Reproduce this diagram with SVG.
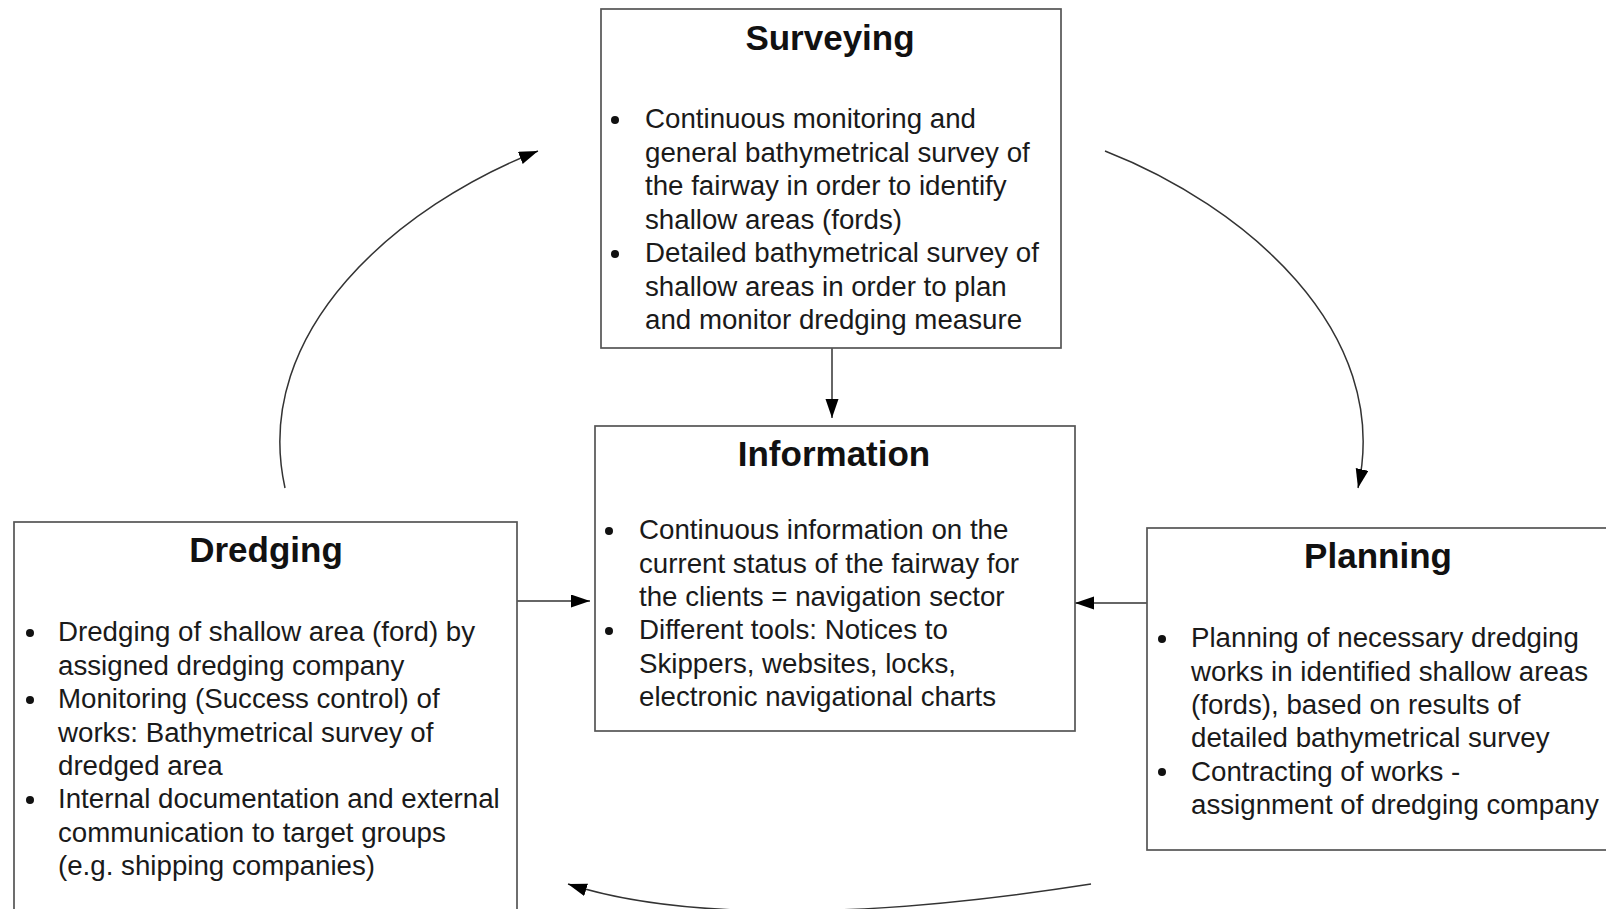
<svg xmlns="http://www.w3.org/2000/svg" width="1606" height="909" viewBox="0 0 1606 909">
  <defs>
    <marker id="arrow" markerUnits="userSpaceOnUse" markerWidth="20" markerHeight="14" refX="19" refY="6.5" orient="auto">
      <path d="M0,0 L19,6.5 L0,13 Z" fill="#000"/>
    </marker>
    <style>
      .box { fill: #fff; stroke: #555; stroke-width: 1.7; }
      .title { font-family: "Liberation Sans", Arial, sans-serif; font-weight: bold; font-size: 35px; fill: #111; text-anchor: middle; }
      .body { font-family: "Liberation Sans", Arial, sans-serif; font-size: 27.7px; fill: #1a1a1a; }
      .bullet { fill: #111; }
      .link { fill: none; stroke: #333; stroke-width: 1.5; marker-end: url(#arrow); }
    </style>
  </defs>
  <rect width="1606" height="909" fill="#fff"/>

  <!-- connectors -->
  <g id="connectors">
    <path class="link" d="M832,348 L832,418"/>
    <path class="link" d="M517,601 L590,601"/>
    <path class="link" d="M1147,603 L1075,603"/>
    <path class="link" d="M285,488 C250,330 400,205 538,151"/>
    <path class="link" d="M1105,151 C1243,205 1393,330 1358,488"/>
    <path class="link" d="M1091,884 C860,920 680,920 568,884"/>
  </g>

  <!-- Surveying -->
  <g id="surveying">
    <rect class="box" x="601" y="9" width="460" height="339"/>
    <text class="title" x="830" y="50">Surveying</text>
    <circle class="bullet" cx="615" cy="120" r="4"/>
    <circle class="bullet" cx="615" cy="254" r="4"/>
    <text class="body">
      <tspan x="645" y="128">Continuous monitoring and</tspan>
      <tspan x="645" y="161.5">general bathymetrical survey of</tspan>
      <tspan x="645" y="195">the fairway in order to identify</tspan>
      <tspan x="645" y="228.5">shallow areas (fords)</tspan>
      <tspan x="645" y="262">Detailed bathymetrical survey of</tspan>
      <tspan x="645" y="295.5">shallow areas in order to plan</tspan>
      <tspan x="645" y="329">and monitor dredging measure</tspan>
    </text>
  </g>

  <!-- Information -->
  <g id="information">
    <rect class="box" x="595" y="426" width="480" height="305"/>
    <text class="title" x="834" y="466">Information</text>
    <circle class="bullet" cx="609" cy="531" r="4"/>
    <circle class="bullet" cx="609" cy="631" r="4"/>
    <text class="body">
      <tspan x="639" y="539">Continuous information on the</tspan>
      <tspan x="639" y="572.5">current status of the fairway for</tspan>
      <tspan x="639" y="606">the clients = navigation sector</tspan>
      <tspan x="639" y="639">Different tools: Notices to</tspan>
      <tspan x="639" y="672.5">Skippers, websites, locks,</tspan>
      <tspan x="639" y="706">electronic navigational charts</tspan>
    </text>
  </g>

  <!-- Dredging -->
  <g id="dredging">
    <rect class="box" x="14" y="522" width="503" height="420"/>
    <text class="title" x="266" y="562">Dredging</text>
    <circle class="bullet" cx="30" cy="633" r="4"/>
    <circle class="bullet" cx="30" cy="700" r="4"/>
    <circle class="bullet" cx="30" cy="800" r="4"/>
    <text class="body">
      <tspan x="58" y="641">Dredging of shallow area (ford) by</tspan>
      <tspan x="58" y="674.5">assigned dredging company</tspan>
      <tspan x="58" y="708">Monitoring (Success control) of</tspan>
      <tspan x="58" y="741.5">works: Bathymetrical survey of</tspan>
      <tspan x="58" y="775">dredged area</tspan>
      <tspan x="58" y="808">Internal documentation and external</tspan>
      <tspan x="58" y="841.5">communication to target groups</tspan>
      <tspan x="58" y="875">(e.g. shipping companies)</tspan>
    </text>
  </g>

  <!-- Planning -->
  <g id="planning">
    <rect class="box" x="1147" y="528" width="463" height="322"/>
    <text class="title" x="1378" y="568">Planning</text>
    <circle class="bullet" cx="1162" cy="639" r="4"/>
    <circle class="bullet" cx="1162" cy="772" r="4"/>
    <text class="body">
      <tspan x="1191" y="647">Planning of necessary dredging</tspan>
      <tspan x="1191" y="680.5">works in identified shallow areas</tspan>
      <tspan x="1191" y="714">(fords), based on results of</tspan>
      <tspan x="1191" y="747">detailed bathymetrical survey</tspan>
      <tspan x="1191" y="780.5">Contracting of works -</tspan>
      <tspan x="1191" y="814">assignment of dredging company</tspan>
    </text>
  </g>
</svg>
